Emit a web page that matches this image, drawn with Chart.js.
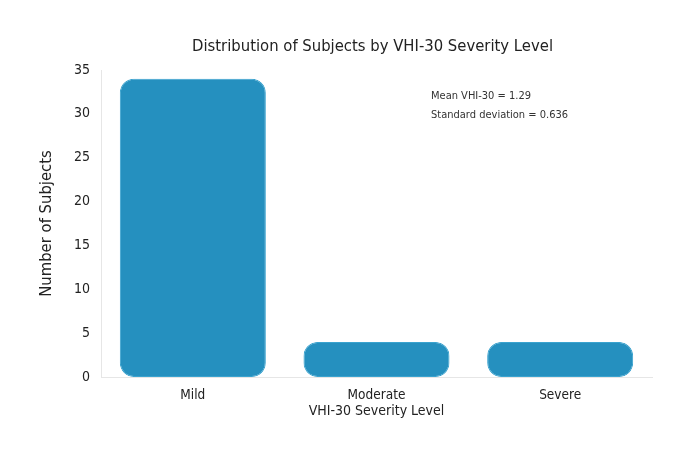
<!DOCTYPE html>
<html>
<head>
<meta charset="utf-8">
<script src="https://cdn.jsdelivr.net/npm/chart.js@4.4.0/dist/chart.umd.min.js"></script>
<style>
  html, body { margin: 0; padding: 0; background: #fff; }
  #wrap { width: 681px; height: 450px; }
</style>
</head>
<body>
<div id="wrap"><canvas id="severity"></canvas></div>
<script>
var severityLevels = ["Mild", "Moderate", "Severe"];
var subjectCounts = [34, 4, 4];
var yTicks = [0, 5, 10, 15, 20, 25, 30, 35];
var chartTitle = "Distribution of Subjects by VHI-30 Severity Level";
var statLines = ["Mean VHI-30 = 1.29", "Standard deviation = 0.636"];

var fontFamily = "'DejaVu Sans Condensed', 'Liberation Sans Narrow', sans-serif";

// title centred over the plot, plus the small stats text in the upper right
var overlayText = {
  id: 'overlayText',
  afterDraw: function(chart) {
    var ctx = chart.ctx;
    var area = chart.chartArea;
    ctx.save();
    ctx.fillStyle = '#222';
    ctx.textBaseline = 'middle';
    ctx.textAlign = 'center';
    ctx.font = "16.5px " + fontFamily;
    ctx.fillText(chartTitle, (area.left + area.right) / 2 - 4, area.top - 23);

    ctx.textAlign = 'left';
    ctx.fillStyle = '#333';
    ctx.font = "11px " + fontFamily;
    for (var i = 0; i < statLines.length; i++) {
      ctx.fillText(statLines[i], area.left + 330, area.top + 26 + i * 19);
    }
    ctx.restore();
  }
};

var severityChart = new Chart(document.getElementById("severity"), {
  type: 'bar',
  data: {
    labels: severityLevels,
    datasets: [{
      data: subjectCounts,
      backgroundColor: '#2590bf',
      borderColor: '#3aa3cf',
      borderWidth: 1,
      borderRadius: 14,
      borderSkipped: false,
      barPercentage: 0.795,
      categoryPercentage: 1
    }]
  },
  options: {
    responsive: true,
    maintainAspectRatio: false,
    animation: false,
    layout: { padding: { left: 37, right: 29, bottom: 30, top: 70 } },
    plugins: {
      legend: { display: false },
      tooltip: { enabled: false },
      title: { display: false }
    },
    scales: {
      x: {
        grid: { display: false },
        border: { color: '#e6e6e6' },
        ticks: { color: '#222', font: { family: fontFamily, size: 13.5 }, padding: 2 },
        title: {
          display: true,
          text: 'VHI-30 Severity Level',
          color: '#222',
          font: { family: fontFamily, size: 14 },
          padding: 0
        },
        afterFit: function(scale) { scale.height = 43; }
      },
      y: {
        min: 0,
        max: 35,
        afterBuildTicks: function(scale) {
          scale.ticks = yTicks.map(function(v) { return { value: v }; });
        },
        grid: { display: false },
        border: { color: '#e6e6e6' },
        ticks: { color: '#222', font: { family: fontFamily, size: 14 }, padding: 3 },
        title: {
          display: true,
          text: 'Number of Subjects',
          color: '#222',
          font: { family: fontFamily, size: 16.5 },
          padding: 0
        },
        afterFit: function(scale) { scale.width = 64; }
      }
    }
  },
  plugins: [overlayText]
});
</script>
</body>
</html>
